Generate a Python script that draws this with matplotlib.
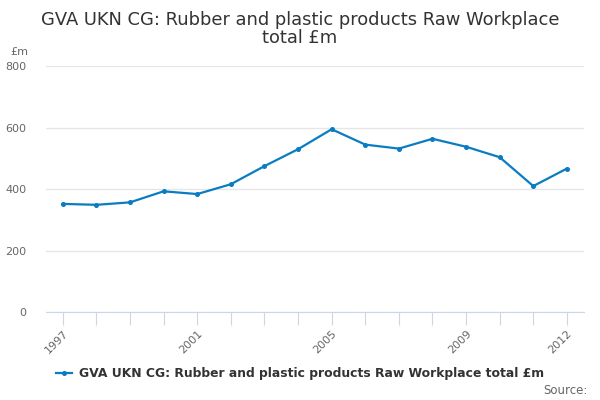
import matplotlib
matplotlib.use("Agg")
import matplotlib.pyplot as plt
from matplotlib.lines import Line2D

years = list(range(1997, 2013))
values = [352, 349, 357, 393, 384, 416, 475, 530, 595, 545, 532, 564, 538, 504, 410, 467]
label_years = [1997, 2001, 2005, 2009, 2012]
series_name = "GVA UKN CG: Rubber and plastic products Raw Workplace total £m"
title = "GVA UKN CG: Rubber and plastic products Raw Workplace\ntotal £m"
y_ticks = [0, 200, 400, 600, 800]

color = "#0a7dc2"
fig = plt.figure(figsize=(6, 4), dpi=100)
ax = fig.add_axes([46/600, 1-312/400, (583.7-46)/600, (312-66.3)/400])
ax.plot(years, values, color=color, lw=1.6, marker="o", ms=2.6, zorder=3)
ax.set_xlim(1996.5, 2012.5)
ax.set_ylim(0, 800)
ax.set_yticks(y_ticks)
ax.set_yticklabels([str(v) for v in y_ticks], color="#666666", fontsize=8)
ax.tick_params(axis="y", length=0, pad=14)
ax.grid(axis="y", color="#e6e6e6", lw=1)
ax.set_axisbelow(True)
ax.set_xticks(years)
ax.set_xticklabels([str(y) if y in label_years else "" for y in years],
                   rotation=45, ha="right", rotation_mode="anchor",
                   color="#666666", fontsize=8)
ax.tick_params(axis="x", length=9, color="#ccd6eb", pad=3)
for s in ["top", "right", "left"]:
    ax.spines[s].set_visible(False)
ax.spines["bottom"].set_color("#ccd6eb")

fig.text(0.5, 1-29/400, title, ha="center", va="center", fontsize=12.9, color="#333333",
         linespacing=1.05)
fig.text(10/600, 1-52/400, "£m", ha="left", va="center", fontsize=8, color="#666666")

handle = Line2D([0], [0], color=color, lw=1.6, marker="o", ms=2.6)
fig.legend([handle], [series_name], loc="center", bbox_to_anchor=(0.5, 1-374/400),
           frameon=False, prop={"weight": "bold", "size": 8.9}, handlelength=1.3,
           handletextpad=0.5, labelcolor="#333333")
fig.text(588/600, 1-390/400, "Source:", ha="right", va="center", fontsize=8.5, color="#666666")
fig.savefig("out.png", dpi=100)
